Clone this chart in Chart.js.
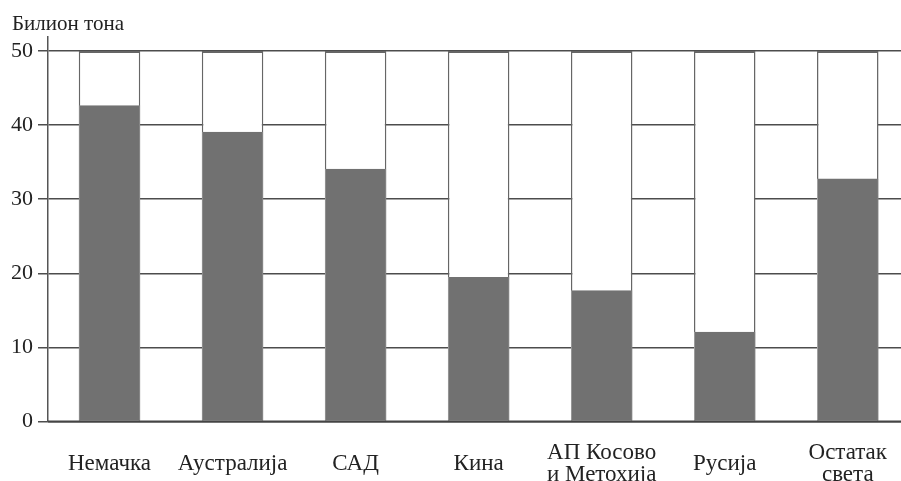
<!DOCTYPE html>
<html>
<head>
<meta charset="utf-8">
<script src="https://cdn.jsdelivr.net/npm/chart.js@4"></script>
<style>
  html, body { margin: 0; padding: 0; background: #fff; overflow: hidden; }
  #wrap { width: 901px; height: 481px; overflow: hidden; position: relative; }
  canvas { display: block; }
</style>
</head>
<body>
<div id="wrap"><canvas id="c" width="910" height="481" style="width:910px;height:481px"></canvas></div>
<script>
// Reserves by country (billion tonnes)
const categories = [['Немачка'], ['Аустралија'], ['САД'], ['Кина'], ['АП Косово', 'и Метохија'], ['Русија'], ['Остатак', 'света']];
const reserves = [42.7, 39.1, 34.1, 19.5, 17.7, 12.1, 32.8];
const frameTop = [50, 50, 50, 50, 50, 50, 50];
const yTicks = [0, 10, 20, 30, 40, 50];
const unitLabel = 'Билион тона';

const SERIF = "'Liberation Serif', 'DejaVu Serif', serif";

// Unit caption in the top-left corner
const unitCaption = {
  id: 'unitCaption',
  afterDraw(chart) {
    const ctx = chart.ctx;
    ctx.save();
    ctx.font = '21px ' + SERIF;
    ctx.fillStyle = '#222';
    ctx.textAlign = 'left';
    ctx.textBaseline = 'alphabetic';
    ctx.fillText(unitLabel, 12, 30);
    ctx.restore();
  }
};

// Zero line drawn over the bars
const zeroLine = {
  id: 'zeroLine',
  afterDatasetsDraw(chart) {
    const { ctx, chartArea, scales } = chart;
    const y = scales.y.getPixelForValue(0);
    ctx.save();
    ctx.strokeStyle = '#444';
    ctx.lineWidth = 2;
    ctx.beginPath();
    ctx.moveTo(chartArea.left, y);
    ctx.lineTo(chartArea.right, y);
    ctx.stroke();
    ctx.restore();
  }
};

new Chart(document.getElementById('c'), {
  type: 'bar',
  data: {
    labels: categories,
    datasets: [
      {
        label: 'reserves',
        data: reserves,
        backgroundColor: '#717171',
        borderColor: '#a0a0a0',
        borderWidth: { left: 1, right: 1, top: 0, bottom: 0 },
        borderSkipped: false,
        grouped: false,
        order: 1
      },
      {
        label: 'frame',
        data: frameTop,
        backgroundColor: '#ffffff',
        borderColor: '#666',
        borderWidth: { left: 1.5, right: 1.5, top: 2, bottom: 0 },
        borderSkipped: false,
        grouped: false,
        order: 2
      }
    ]
  },
  options: {
    responsive: false,
    animation: false,
    devicePixelRatio: 1,
    barPercentage: 0.5,
    categoryPercentage: 1.0,
    layout: { padding: { top: 37, right: 0, bottom: 0, left: 0 } },
    plugins: {
      legend: { display: false },
      tooltip: { enabled: false },
      title: { display: false }
    },
    scales: {
      x: {
        grid: { display: false },
        border: { display: false },
        ticks: {
          font: { family: SERIF, size: 23, lineHeight: 0.96 },
          color: '#222',
          padding: 23,
          crossAlign: 'center',
          maxRotation: 0,
          autoSkip: false
        },
        afterFit(scale) { scale.height = 59.5; }
      },
      y: {
        min: 0,
        max: 51.9,
        afterBuildTicks(scale) { scale.ticks = yTicks.map(v => ({ value: v })); },
        afterFit(scale) { scale.width = 48; },
        grid: {
          color: '#4d4d4d',
          lineWidth: 1.5,
          drawTicks: true,
          tickLength: 10,
          tickColor: '#4d4d4d'
        },
        border: { display: true, color: '#555', width: 1.5 },
        ticks: {
          font: { family: SERIF, size: 22 },
          color: '#222',
          padding: 5
        }
      }
    }
  },
  plugins: [unitCaption, zeroLine]
});
</script>
</body>
</html>
